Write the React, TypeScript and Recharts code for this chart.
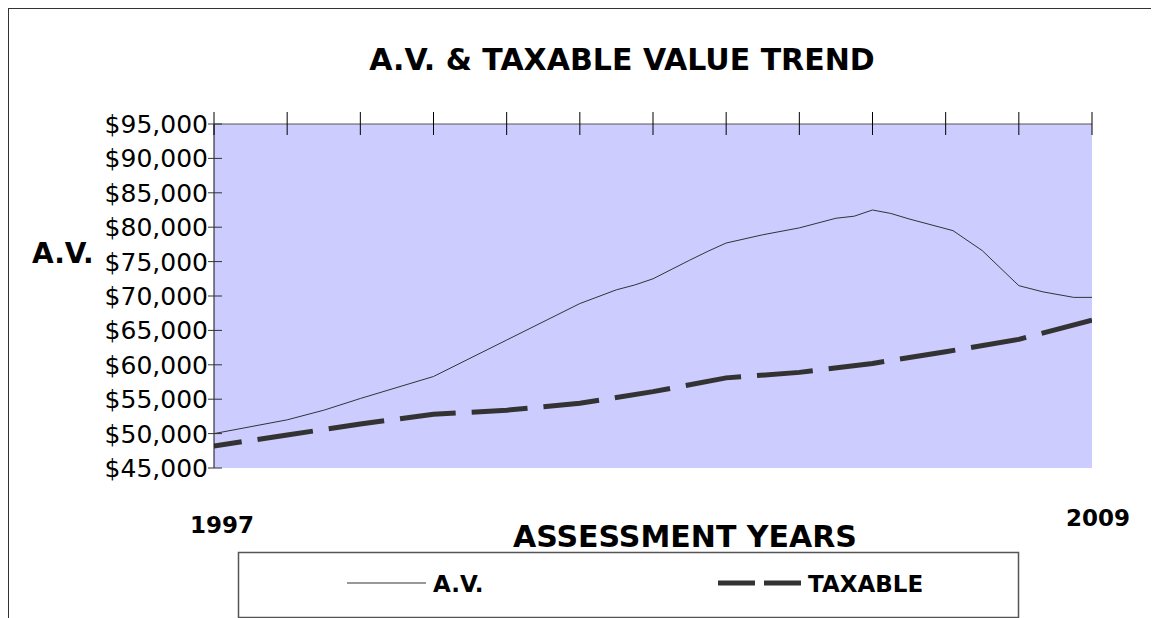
import { LineChart, Line, XAxis, YAxis, CartesianGrid } from 'recharts';

// A.V. line has extra bends between years, so it keeps its own x positions
const avYears = [1997, 1998, 1998.5, 1999, 2000, 2001, 2002, 2002.5, 2002.75, 2003, 2003.5, 2003.75, 2004, 2004.5, 2005, 2005.5, 2005.75, 2006, 2006.25, 2006.5, 2007.1, 2007.5, 2008, 2008.33, 2008.75, 2009];
const avValues = [50000, 52000, 53400, 55100, 58300, 63600, 68900, 70900, 71600, 72500, 75200, 76500, 77700, 78900, 79900, 81300, 81600, 82500, 82000, 81200, 79500, 76600, 71500, 70600, 69800, 69800];

const taxYears = [1997, 1998, 1999, 2000, 2001, 2002, 2003, 2004, 2005, 2006, 2007, 2008, 2009];
const taxValues = [48200, 49800, 51400, 52800, 53400, 54400, 56100, 58100, 58900, 60200, 61900, 63700, 66500];

const yTicks = [45000, 50000, 55000, 60000, 65000, 70000, 75000, 80000, 85000, 90000, 95000];
const xTicks = [1997, 1998, 1999, 2000, 2001, 2002, 2003, 2004, 2005, 2006, 2007, 2008, 2009];

const avData = avYears.map((year, i) => ({ year, value: avValues[i] }));
const taxData = taxYears.map((year, i) => ({ year, value: taxValues[i] }));

const FONT = '"DejaVu Sans", sans-serif';
const W = 1151;
const H = 610;

const money = (v: number) => '$' + v.toLocaleString('en-US');

const YTick = ({ x, y, payload }: any) => (
    <g>
        <line x1={x - 6} x2={x + 8} y1={y} y2={y} stroke="#333" />
        <text x={x - 6} y={y} dy="0.36em" textAnchor="end" fontSize={25} fontFamily={FONT} fill="#000">
            {money(payload.value)}
        </text>
    </g>
);

const XTick = ({ x, y }: any) => (
    <line x1={x} x2={x} y1={y - 12} y2={y + 11} stroke="#000" />
);

export default function App() {
    return (
        <div style={{ position: 'relative', width: W, height: H }}>
            <div
                style={{
                    position: 'absolute', left: 0, top: 0, width: W, height: H,
                    borderLeft: '1px solid #333', borderTop: '1px solid #333', boxSizing: 'border-box',
                }}
            />
            <div style={{ position: 'absolute', left: 0, top: 0 }}>
                <LineChart width={W} height={H} margin={{ top: 115, right: 67, left: 0, bottom: 150 }}>
                    <CartesianGrid fill="#ccccff" horizontal={false} vertical={false} />
                    <XAxis
                        dataKey="year"
                        type="number"
                        orientation="top"
                        domain={[1997, 2009]}
                        ticks={xTicks}
                        interval={0}
                        height={1}
                        tickSize={0}
                        tickMargin={0}
                        tick={<XTick />}
                        axisLine={{ stroke: '#555' }}
                        allowDataOverflow
                    />
                    <YAxis
                        type="number"
                        domain={[45000, 95000]}
                        ticks={yTicks}
                        interval={0}
                        width={206}
                        tickSize={0}
                        tickMargin={0}
                        tick={<YTick />}
                        axisLine={{ stroke: '#111' }}
                    />
                    <Line
                        data={avData}
                        dataKey="value"
                        type="linear"
                        stroke="#333"
                        strokeWidth={1}
                        dot={false}
                        isAnimationActive={false}
                    />
                    <Line
                        data={taxData}
                        dataKey="value"
                        type="linear"
                        stroke="#333"
                        strokeWidth={5}
                        strokeDasharray="56 16"
                        strokeDashoffset={28}
                        dot={false}
                        isAnimationActive={false}
                    />
                </LineChart>
            </div>
            <svg width={W} height={H} style={{ position: 'absolute', left: 0, top: 0, pointerEvents: 'none' }}>
                <g fontFamily={FONT} fontWeight="bold" fill="#000">
                    <text x={614} y={62} textAnchor="middle" fontSize={30}>A.V. &amp; TAXABLE VALUE TREND</text>
                    <text x={24} y={255} fontSize={28}>A.V.</text>
                    <text x={182} y={525} fontSize={23}>1997</text>
                    <text x={1058} y={518} fontSize={23}>2009</text>
                    <text x={677} y={539} textAnchor="middle" fontSize={30}>ASSESSMENT YEARS</text>
                </g>
                <rect x={230.5} y={544.5} width={780} height={65} fill="#fff" stroke="#555" strokeWidth={1.5} />
                <line x1={339} x2={418} y1={575} y2={575} stroke="#333" strokeWidth={1} />
                <text x={425} y={584} fontSize={23} fontWeight="bold" fontFamily={FONT}>A.V.</text>
                <line x1={710} x2={795} y1={575} y2={575} stroke="#333" strokeWidth={5} strokeDasharray="37 9" />
                <text x={800} y={584} fontSize={23} fontWeight="bold" fontFamily={FONT}>TAXABLE</text>
            </svg>
        </div>
    );
}
